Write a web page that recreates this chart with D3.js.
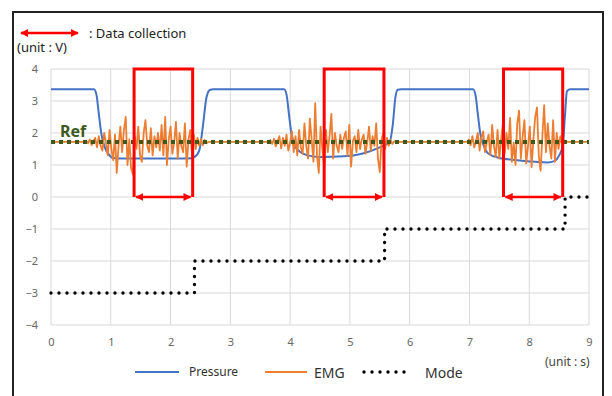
<!DOCTYPE html>
<html>
<head>
<meta charset="utf-8">
<script src="https://cdn.jsdelivr.net/npm/d3@7"></script>
<style>
  body { margin: 0; background: #fff; }
  text { font-family: "Noto Sans", "Open Sans", sans-serif; }
</style>
</head>
<body>
<div id="chart"></div>
<script>
const width = 612,
      height = 396;

// axis ticks
const xTicks = [0, 1, 2, 3, 4, 5, 6, 7, 8, 9];
const yTicks = [4, 3, 2, 1, 0, -1, -2, -3, -4];

// pressure signal, [time s, volts]
const pressure = [
  [0, 3.37], [0.72, 3.37], [0.76, 3.2], [0.8, 2.6], [0.84, 2.0], [0.9, 1.55], [0.96, 1.35],
  [1.04, 1.22], [1.2, 1.2], [2.3, 1.2], [2.4, 1.25], [2.48, 1.45], [2.54, 2.2], [2.6, 3.1],
  [2.66, 3.35], [2.72, 3.37], [3.9, 3.37], [3.94, 3.2], [3.98, 2.6], [4.02, 2.0], [4.08, 1.6],
  [4.16, 1.42], [4.3, 1.3], [4.5, 1.25], [4.9, 1.27], [5.2, 1.35], [5.5, 1.55], [5.66, 1.7],
  [5.72, 2.3], [5.76, 3.1], [5.8, 3.35], [5.86, 3.37], [7.06, 3.37], [7.1, 3.2], [7.14, 2.6],
  [7.18, 2.0], [7.24, 1.6], [7.32, 1.35], [7.5, 1.22], [7.8, 1.15], [8.1, 1.1], [8.3, 1.08],
  [8.42, 1.12], [8.5, 1.3], [8.56, 1.6], [8.6, 2.6], [8.63, 3.3], [8.68, 3.37], [9, 3.37]
];

// EMG bursts, sampled every 0.03 s from the start times
const emgRest = 1.72;
const emgStep = 0.03;
const emgStarts = [0.56, 3.64, 6.96];
const emgBurst1 = [
  1.72, 1.76, 1.68, 1.8, 1.62, 1.75, 1.85, 1.55, 1.9, 1.6, 1.45, 2.0, 1.7, 1.3, 2.1, 1.5,
  1.15, 1.95, 0.75, 1.6, 2.2, 1.4, 2.1, 2.5, 1.0, 1.8, 0.9, 0.7, 1.9, 1.5, 2.2, 1.3, 1.1,
  2.0, 2.4, 1.6, 1.4, 2.15, 1.3, 1.9, 1.55, 2.0, 1.45, 2.25, 1.3, 2.5, 1.0, 1.8, 2.2, 1.35,
  1.7, 2.35, 1.2, 2.0, 1.6, 1.4, 2.3, 0.95, 1.8, 2.1, 1.3, 1.95, 1.5, 1.85, 1.6, 1.82, 1.62,
  1.78, 1.68, 1.72
];
const emgBurst2 = [
  1.72, 1.78, 1.66, 1.82, 1.58, 1.75, 1.9, 1.52, 1.85, 1.6, 1.95, 1.45, 1.7, 2.05, 1.4, 1.9,
  1.3, 2.1, 1.55, 1.35, 2.3, 1.6, 1.2, 2.45, 1.8, 1.1, 2.93, 1.3, 0.75, 2.2, 1.5, 0.9, 2.1,
  1.4, 1.9, 2.6, 1.2, 2.0, 1.6, 1.4, 1.95, 1.5, 1.85, 2.05, 1.3, 2.25, 0.95, 1.75, 1.9, 1.4,
  2.1, 1.5, 1.8, 1.95, 1.35, 1.7, 2.2, 1.45, 1.9, 1.6, 2.3, 1.2, 0.78, 1.8, 2.0, 1.5, 1.85,
  1.6, 1.78, 1.66, 1.74, 1.72
];
const emgBurst3 = [
  1.72, 1.8, 1.62, 1.9, 1.55, 1.75, 2.0, 1.45, 1.85, 2.05, 1.4, 1.7, 1.95, 1.3, 2.25, 1.6,
  1.25, 2.1, 1.2, 1.8, 2.3, 1.35, 2.0, 1.5, 2.47, 1.1, 1.7, 1.0, 2.3, 2.7, 1.2, 1.9, 2.4,
  1.05, 1.6, 2.2, 0.93, 1.8, 2.5, 2.8, 1.3, 0.82, 1.9, 2.87, 1.4, 2.3, 1.6, 1.2, 2.4, 1.1,
  2.0, 1.5, 1.9, 1.6, 1.72
];

// mode steps
const mode = [[0, -3], [2.4, -3], [2.4, -2], [5.58, -2], [5.58, -1], [8.6, -1], [8.6, 0], [9, 0]];

// reference level and data collection windows
const refLevel = 1.72;
const windowStart = [1.39, 4.57, 7.57];
const windowEnd = [2.37, 5.57, 8.56];

const svg = d3.select('#chart').append('svg')
    .attr('width', width)
    .attr('height', height);

const x = d3.scaleLinear().domain([0, 9]).range([51, 589]);
const y = d3.scaleLinear().domain([-4, 4]).range([325, 69]);

// outer frame
svg.append('rect')
    .attr('x', 13).attr('y', 12)
    .attr('width', 590).attr('height', 390)
    .attr('fill', 'none')
    .attr('stroke', '#222')
    .attr('stroke-width', 2);

// grid
const grid = svg.append('g');
grid.selectAll('.hg').data(yTicks).enter().append('line')
    .attr('x1', x(0)).attr('x2', x(9))
    .attr('y1', d => y(d)).attr('y2', d => y(d))
    .attr('stroke', '#d9d9d9');
grid.selectAll('.vg').data(xTicks).enter().append('line')
    .attr('x1', d => x(d)).attr('x2', d => x(d))
    .attr('y1', y(4)).attr('y2', y(-4))
    .attr('stroke', '#d9d9d9');

// axes, tick labels only
const yAxis = svg.append('g')
    .attr('transform', 'translate(' + (x(0) - 8) + ',0)')
    .call(d3.axisLeft(y).tickValues(yTicks).tickSize(0).tickPadding(5));
yAxis.select('.domain').remove();
yAxis.selectAll('text').attr('fill', '#666').style('font-size', '11px');

const xAxis = svg.append('g')
    .attr('transform', 'translate(0,' + (y(-4) + 8) + ')')
    .call(d3.axisBottom(x).tickValues(xTicks).tickSize(0).tickPadding(5));
xAxis.select('.domain').remove();
xAxis.selectAll('text').attr('fill', '#666').style('font-size', '11px');

// series
const line = d3.line().x(d => x(d[0])).y(d => y(d[1]));

svg.append('path')
    .datum(pressure)
    .attr('d', line.curve(d3.curveMonotoneX))
    .attr('fill', 'none')
    .attr('stroke', '#4472c4')
    .attr('stroke-width', 2);

const emg = [[0, emgRest]];
[emgBurst1, emgBurst2, emgBurst3].forEach((b, k) => {
  b.forEach((v, i) => emg.push([emgStarts[k] + i * emgStep, v]));
});
emg.push([9, emgRest]);

svg.append('path')
    .datum(emg)
    .attr('d', d3.line().x(d => x(d[0])).y(d => y(d[1])))
    .attr('fill', 'none')
    .attr('stroke', '#ed7d31')
    .attr('stroke-width', 1.8)
    .attr('stroke-linejoin', 'round');

// Ref line
svg.append('line')
    .attr('x1', x(0)).attr('x2', x(9))
    .attr('y1', y(refLevel)).attr('y2', y(refLevel))
    .attr('stroke', '#3d5a1e')
    .attr('stroke-width', 4)
    .attr('stroke-dasharray', '4 4');
svg.append('text')
    .attr('x', 60).attr('y', 137)
    .attr('fill', '#3d5a1e')
    .style('font-size', '16px')
    .style('font-weight', 'bold')
    .text('Ref');

// mode
svg.append('path')
    .datum(mode)
    .attr('d', d3.line().x(d => x(d[0])).y(d => y(d[1])))
    .attr('fill', 'none')
    .attr('stroke', '#000')
    .attr('stroke-width', 3.4)
    .attr('stroke-linecap', 'round')
    .attr('stroke-dasharray', '0 8');

// arrowheads
const defs = svg.append('defs');
defs.append('marker')
    .attr('id', 'head')
    .attr('viewBox', '0 0 10 10')
    .attr('refX', 9).attr('refY', 5)
    .attr('markerWidth', 3.2).attr('markerHeight', 3.2)
    .attr('orient', 'auto-start-reverse')
    .append('path')
    .attr('d', 'M0,0L10,5L0,10z')
    .attr('fill', '#ff0000');

// data collection windows
const win = svg.selectAll('.win').data(windowStart).enter().append('g');
win.append('path')
    .attr('d', (d, i) => 'M' + x(d) + ',' + y(0) + 'V' + y(4) + 'H' + x(windowEnd[i]) + 'V' + y(0))
    .attr('fill', 'none')
    .attr('stroke', '#ff0000')
    .attr('stroke-width', 3);
win.append('line')
    .attr('x1', d => x(d) + 2).attr('x2', (d, i) => x(windowEnd[i]) - 2)
    .attr('y1', y(0)).attr('y2', y(0))
    .attr('stroke', '#ff0000')
    .attr('stroke-width', 2.5)
    .attr('marker-start', 'url(#head)')
    .attr('marker-end', 'url(#head)');

// top note
svg.append('line')
    .attr('x1', 21).attr('x2', 78)
    .attr('y1', 33).attr('y2', 33)
    .attr('stroke', '#ff0000')
    .attr('stroke-width', 2.5)
    .attr('marker-start', 'url(#head)')
    .attr('marker-end', 'url(#head)');
svg.append('text')
    .attr('x', 89).attr('y', 38)
    .attr('fill', '#222')
    .style('font-size', '13px')
    .text(': Data collection');
svg.append('text')
    .attr('x', 17).attr('y', 52)
    .attr('fill', '#222')
    .style('font-size', '13px')
    .text('(unit : V)');
svg.append('text')
    .attr('x', 545).attr('y', 366)
    .attr('fill', '#444')
    .style('font-size', '12px')
    .text('(unit : s)');

// legend
const legend = [
  { name: 'Pressure', color: '#4472c4', x0: 135, x1: 179, tx: 189, dash: null, size: 12 },
  { name: 'EMG', color: '#ed7d31', x0: 265, x1: 307, tx: 314, dash: null, size: 14 },
  { name: 'Mode', color: '#000', x0: 364, x1: 408, tx: 425, dash: '0 8', size: 14 }
];
const lg = svg.selectAll('.lg').data(legend).enter().append('g');
lg.append('line')
    .attr('x1', d => d.x0).attr('x2', d => d.x1)
    .attr('y1', 372).attr('y2', 372)
    .attr('stroke', d => d.color)
    .attr('stroke-width', d => d.dash ? 3.4 : 2)
    .attr('stroke-linecap', d => d.dash ? 'round' : 'butt')
    .attr('stroke-dasharray', d => d.dash);
lg.append('text')
    .attr('x', d => d.tx).attr('y', d => d.size > 12 ? 378 : 376)
    .attr('fill', '#333')
    .style('font-size', d => d.size + 'px')
    .text(d => d.name);
</script>
</body>
</html>
